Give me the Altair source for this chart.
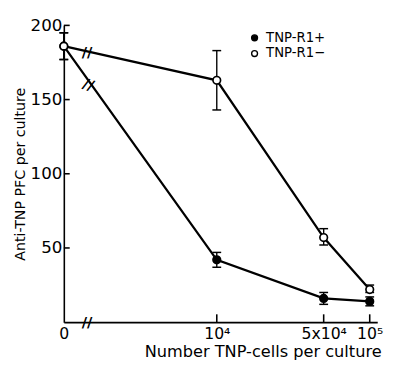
import altair as alt
import pandas as pd

# ---- data ----
cells = [0, 10000, 50000, 100000]
series_plus = "TNP-R1+"
series_minus = "TNP-R1−"
plus_mean = [186, 42, 16, 14]
plus_lo = [177, 37, 12, 11]
plus_hi = [195, 47, 20, 17]
minus_mean = [186, 163, 57, 22]
minus_lo = [177, 143, 52, 20]
minus_hi = [195, 183, 63, 25]

y_ticks = [50, 100, 150, 200]
x_ticks = [10000, 50000, 100000]
x_label_values = [1000, 10000, 50000, 100000]
x_labels = ["0", "10⁴", "5x10⁴", "10⁵"]
ZERO_POS = 1000  # where the "0" culture is drawn on the broken log axis

# break marks (axis break "//") given in data units
break_x = [1420, 1450, 1420]
break_y = [182, 160, 0]
break_angle = [0, 20, 0]

rows = []
for name, m, lo, hi in [(series_plus, plus_mean, plus_lo, plus_hi),
                        (series_minus, minus_mean, minus_lo, minus_hi)]:
    for c, v, l, h in zip(cells, m, lo, hi):
        rows.append({"cells": c, "series": name, "pfc": v, "lo": l, "hi": h})
df = pd.DataFrame(rows)

label_expr = " : ".join(
    [f"datum.value == {v} ? '{t}'" for v, t in zip(x_label_values, x_labels)]
) + " : ''"

FONT = "DejaVu Sans"
xscale = alt.Scale(type="log", domain=[1000, 112000], nice=False)
yscale = alt.Scale(domain=[0, 200], nice=False)

base = alt.Chart(df).transform_calculate(
    xpos=f"datum.cells == 0 ? {ZERO_POS} : datum.cells"
)

x_enc = alt.X("xpos:Q", scale=xscale, axis=alt.Axis(
    values=x_label_values, labelExpr=label_expr, grid=False, ticks=False,
    domainColor="black", domainWidth=1.6, labelFont=FONT, labelFontSize=16,
    labelColor="black", labelPadding=4, labelFlush=False,
    title="Number TNP-cells per culture", titleFont=FONT, titleFontSize=16.5,
    titleFontWeight="normal", titleColor="black",
    titleX=203, titleY=35, titleBaseline="alphabetic", titleAlign="center"))
y_enc = alt.Y("pfc:Q", scale=yscale, axis=alt.Axis(
    values=y_ticks, grid=False, ticks=False, domainColor="black",
    domainWidth=1.6, labelFont=FONT, labelFontSize=17, labelColor="black",
    labelPadding=2, title="Anti-TNP PFC per culture", titleFont=FONT,
    titleFontSize=14.5, titleFontWeight="normal", titleColor="black",
    titlePadding=3))

lines = base.mark_line(color="black", strokeWidth=2.3).encode(
    x=x_enc, y=y_enc, detail="series:N")

err = base.mark_rule(color="black", strokeWidth=1.4).encode(
    x="xpos:Q", y="lo:Q", y2="hi:Q")
cap_lo = base.mark_tick(color="black", orient="horizontal", size=9,
                        thickness=1.5, opacity=1).encode(x="xpos:Q", y="lo:Q")
cap_hi = base.mark_tick(color="black", orient="horizontal", size=9,
                        thickness=1.5, opacity=1).encode(x="xpos:Q", y="hi:Q")

pts = base.mark_point(shape="circle", filled=True, size=60, stroke="black",
                      strokeWidth=1.7, opacity=1).encode(
    x="xpos:Q", y="pfc:Q",
    fill=alt.Fill("series:N", scale=alt.Scale(
        domain=[series_plus, series_minus], range=["black", "white"]),
        legend=alt.Legend(title=None, orient="none", legendX=188, legendY=6,
                          labelFont=FONT, labelFontSize=13.5,
                          labelColor="black", symbolSize=36,
                          symbolStrokeColor="black", symbolStrokeWidth=1.4,
                          rowPadding=1, labelOffset=5)))

# inward ticks
ytick_df = pd.DataFrame({"v": y_ticks})
ytick = alt.Chart(ytick_df).mark_rule(color="black", strokeWidth=1.6).encode(
    y=alt.Y("v:Q", scale=yscale), x=alt.value(0), x2=alt.value(6))
xtick_df = pd.DataFrame({"v": x_ticks})
xtick = alt.Chart(xtick_df).mark_rule(color="black", strokeWidth=1.6).encode(
    x=alt.X("v:Q", scale=xscale), y=alt.value(303), y2=alt.value(295))

brk_df = pd.DataFrame({"x": break_x, "y": break_y, "a": break_angle})
brk = alt.Chart(brk_df).mark_text(text="//", font=FONT, fontSize=15,
                                  fontWeight="bold", color="black").encode(
    x=alt.X("x:Q", scale=xscale), y=alt.Y("y:Q", scale=yscale),
    angle=alt.Angle("a:Q", scale=None))

chart = alt.layer(lines, err, cap_lo, cap_hi, pts, ytick, xtick, brk).properties(
    width=320, height=303,
    autosize=alt.AutoSizeParams(type="none"),
    padding={"left": 57, "top": 14, "right": 12, "bottom": 40},
    background="white",
).configure_view(stroke=None)

chart.save("out.html", embed_options={"renderer": "svg", "actions": False})
